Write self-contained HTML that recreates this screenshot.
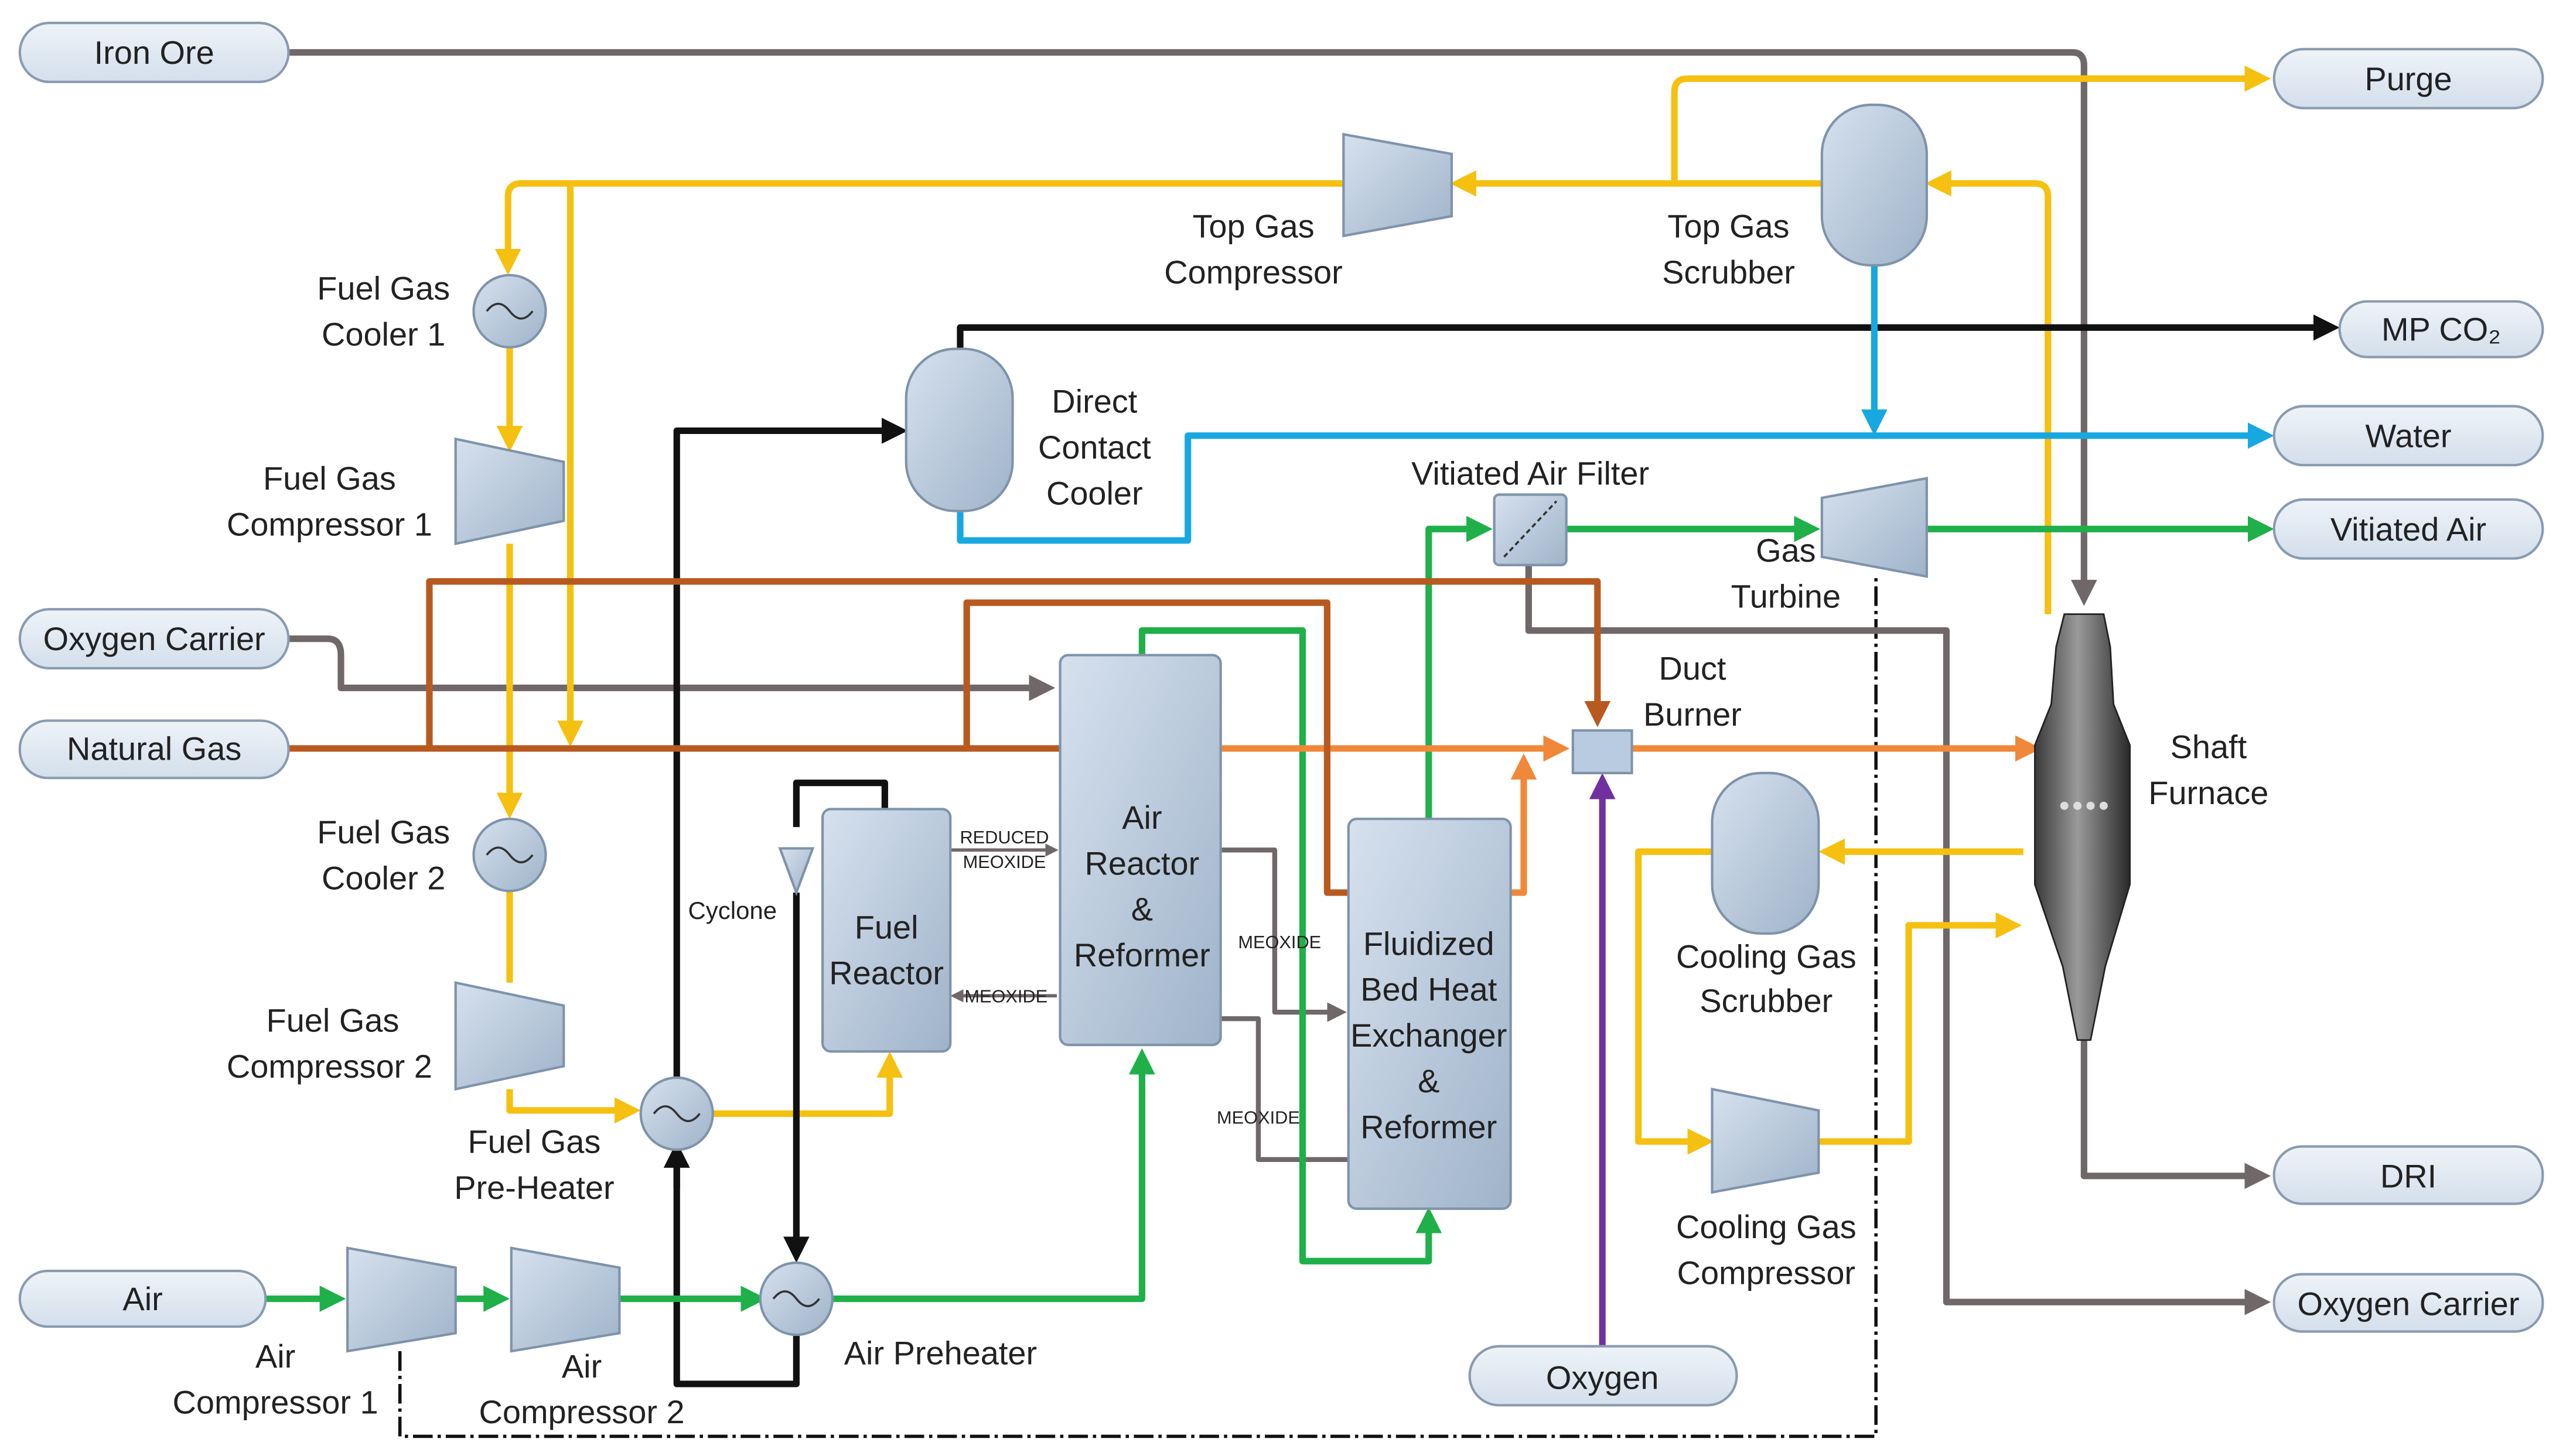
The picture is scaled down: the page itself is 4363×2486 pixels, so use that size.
<!DOCTYPE html>
<html><head><meta charset="utf-8"><style>
html,body{margin:0;padding:0;background:#fff;}
svg{display:block;}
text{font-family:"Liberation Sans",sans-serif;fill:#222;}
</style></head><body>
<svg width="4363" height="2486" viewBox="0 0 1560 889" xmlns="http://www.w3.org/2000/svg">
<defs>
<linearGradient id="eq" x1="0" y1="0" x2="1" y2="1"><stop offset="0" stop-color="#d6e1ee"/><stop offset="1" stop-color="#9fb3c9"/></linearGradient>
<linearGradient id="pill" x1="0" y1="0" x2="0" y2="1"><stop offset="0" stop-color="#eef3f8"/><stop offset="1" stop-color="#d3dfec"/></linearGradient>
<linearGradient id="fur" x1="0" y1="0" x2="1" y2="0"><stop offset="0" stop-color="#3a3a3a"/><stop offset="0.45" stop-color="#9a9a9a"/><stop offset="1" stop-color="#2a2a2a"/></linearGradient>
<marker id="aY" markerWidth="4" markerHeight="4" refX="2" refY="2" orient="auto" markerUnits="strokeWidth"><path d="M0,0 L4,2 L0,4z" fill="#f5c010"/></marker>
<marker id="aG" markerWidth="4" markerHeight="4" refX="2" refY="2" orient="auto" markerUnits="strokeWidth"><path d="M0,0 L4,2 L0,4z" fill="#1fb04a"/></marker>
<marker id="aK" markerWidth="4" markerHeight="4" refX="2" refY="2" orient="auto" markerUnits="strokeWidth"><path d="M0,0 L4,2 L0,4z" fill="#111"/></marker>
<marker id="aB" markerWidth="4" markerHeight="4" refX="2" refY="2" orient="auto" markerUnits="strokeWidth"><path d="M0,0 L4,2 L0,4z" fill="#18a8e0"/></marker>
<marker id="aR" markerWidth="4" markerHeight="4" refX="2" refY="2" orient="auto" markerUnits="strokeWidth"><path d="M0,0 L4,2 L0,4z" fill="#706868"/></marker>
<marker id="aO" markerWidth="4" markerHeight="4" refX="2" refY="2" orient="auto" markerUnits="strokeWidth"><path d="M0,0 L4,2 L0,4z" fill="#f0883a"/></marker>
<marker id="aN" markerWidth="4" markerHeight="4" refX="2" refY="2" orient="auto" markerUnits="strokeWidth"><path d="M0,0 L4,2 L0,4z" fill="#b85a20"/></marker>
<marker id="aP" markerWidth="4" markerHeight="4" refX="2" refY="2" orient="auto" markerUnits="strokeWidth"><path d="M0,0 L4,2 L0,4z" fill="#7030a0"/></marker>
</defs>
<g fill="none" stroke-width="4" stroke-linejoin="round">
<!-- dash-dot shaft -->
<path d="M244,825 V877 H1145 V352" stroke="#111" stroke-width="2" stroke-dasharray="12,3,2,3"/>
<!-- grey -->
<path d="M176,32 H1265 Q1272,32 1272,40 V362" stroke="#706868" marker-end="url(#aR)"/>
<path d="M176,390 H200 Q208,390 208,400 V420 H636" stroke="#706868" marker-end="url(#aR)"/>
<path d="M933,345 V385 H1188 V795 H1378" stroke="#706868" marker-end="url(#aR)"/>
<path d="M1272,635 V718 H1378" stroke="#706868" marker-end="url(#aR)"/>
<path d="M745,519 H778 V618 H816" stroke="#706868" stroke-width="3" marker-end="url(#aR)"/>
<path d="M745,622 H768 V708 H823" stroke="#706868" stroke-width="3"/>
<path d="M580,519 H642" stroke="#706868" stroke-width="2" marker-end="url(#aR)"/>
<path d="M645,608 H584" stroke="#706868" stroke-width="2" marker-end="url(#aR)"/>
<!-- yellow -->
<path d="M1022,110 V56 Q1022,48 1030,48 H1378" stroke="#f5c010" marker-end="url(#aY)"/>
<path d="M1112,112 H893" stroke="#f5c010" marker-end="url(#aY)"/>
<path d="M820,112 H318 Q310,112 310,120 V160" stroke="#f5c010" marker-end="url(#aY)"/>
<path d="M348,112 V448" stroke="#f5c010" marker-end="url(#aY)"/>
<path d="M1250,375 V120 Q1250,112 1242,112 H1183" stroke="#f5c010" marker-end="url(#aY)"/>
<path d="M311,212 V268" stroke="#f5c010" marker-end="url(#aY)"/>
<path d="M311,332 V492" stroke="#f5c010" marker-end="url(#aY)"/>
<path d="M311,544 V600" stroke="#f5c010"/>
<path d="M311,665 V678 H383" stroke="#f5c010" marker-end="url(#aY)"/>
<path d="M435,680 H543 V650" stroke="#f5c010" marker-end="url(#aY)"/>
<path d="M1235,520 H1118" stroke="#f5c010" marker-end="url(#aY)"/>
<path d="M1045,520 H1000 V697 H1038" stroke="#f5c010" marker-end="url(#aY)"/>
<path d="M1110,697 H1165 V565 H1226" stroke="#f5c010" marker-end="url(#aY)"/>
<!-- black -->
<path d="M586,213 V200 H1420" stroke="#111" marker-end="url(#aK)"/>
<path d="M413,703 V845 H486 V815" stroke="#111"/>
<path d="M413,725 V705" stroke="#111" marker-end="url(#aK)"/>
<path d="M413,658 V263 H546" stroke="#111" marker-end="url(#aK)"/>
<path d="M486,545 V763" stroke="#111" marker-end="url(#aK)"/>
<path d="M486,505 V478 H540 V494" stroke="#111"/>
<!-- blue -->
<path d="M1144,162 V258" stroke="#18a8e0" marker-end="url(#aB)"/>
<path d="M586,312 V330 H725 V266 H1380" stroke="#18a8e0" marker-end="url(#aB)"/>
<!-- green -->
<path d="M162,793 H203" stroke="#1fb04a" marker-end="url(#aG)"/>
<path d="M278,793 H303" stroke="#1fb04a" marker-end="url(#aG)"/>
<path d="M378,793 H460" stroke="#1fb04a" marker-end="url(#aG)"/>
<path d="M508,793 H697 V648" stroke="#1fb04a" marker-end="url(#aG)"/>
<path d="M697,400 V385 H795 V770 H872 V745" stroke="#1fb04a" marker-end="url(#aG)"/>
<path d="M872,500 V323 H903" stroke="#1fb04a" marker-end="url(#aG)"/>
<path d="M956,323 H1103" stroke="#1fb04a" marker-end="url(#aG)"/>
<path d="M1176,323 H1380" stroke="#1fb04a" marker-end="url(#aG)"/>
<!-- brown / orange -->
<path d="M176,457 H675 L688,447 L700,467 L712,447 L725,457" stroke="#b85a20"/>
<path d="M725,457 H950" stroke="#f0883a" marker-end="url(#aO)"/>
<path d="M262,457 V355 H975 V436" stroke="#b85a20" marker-end="url(#aN)"/>
<path d="M590,457 V368 H810 V545 L830,545 L843,535 L856,555 L869,535 L882,545 H890" stroke="#b85a20"/>
<path d="M890,545 H930 V468" stroke="#f0883a" marker-end="url(#aO)"/>
<path d="M996,457 H1238" stroke="#f0883a" marker-end="url(#aO)"/>
<!-- purple -->
<path d="M978,822 V480" stroke="#7030a0" marker-end="url(#aP)"/>
</g>
<!-- equipment -->
<g stroke="#7f93aa" stroke-width="1.5" fill="url(#eq)">
<rect x="1112" y="64" width="64" height="98" rx="30"/>
<rect x="553" y="213" width="65" height="99" rx="30"/>
<rect x="1045" y="472" width="65" height="98" rx="30"/>
<path d="M820,82 L886,94 L886,132 L820,144Z"/>
<path d="M278,268 L344,282 L344,318 L278,332Z"/>
<path d="M278,600 L344,614 L344,651 L278,665Z"/>
<path d="M212,762 L278,774 L278,814 L212,825Z"/>
<path d="M312,762 L378,774 L378,814 L312,825Z"/>
<path d="M1112,304 L1176,292 L1176,352 L1112,340Z"/>
<path d="M1045,665 L1110,678 L1110,716 L1045,728Z"/>
<rect x="502" y="494" width="78" height="148" rx="5"/>
<rect x="647" y="400" width="98" height="238" rx="5"/>
<rect x="823" y="500" width="99" height="238" rx="5"/>
<rect x="912" y="302" width="44" height="43" rx="3"/>
<rect x="960" y="446" width="36" height="26" fill="#b8cbe0"/>
<circle cx="311" cy="190" r="22"/><circle cx="311" cy="522" r="22"/>
<circle cx="413" cy="680" r="22"/><circle cx="486" cy="793" r="22"/>
<path d="M476,518 L496,518 L486,545Z"/>
</g>
<g fill="none" stroke="#333" stroke-width="1.3">
<path d="M297,190 q7,-9 14,0 t14,0"/><path d="M297,522 q7,-9 14,0 t14,0"/>
<path d="M399,680 q7,-9 14,0 t14,0"/><path d="M472,793 q7,-9 14,0 t14,0"/>
<path d="M918,340 L950,306" stroke-dasharray="3,2"/>
</g>
<!-- shaft furnace -->
<path d="M1260,375 H1284 L1288,395 L1290,430 L1300,455 L1300,540 L1285,590 L1276,635 H1268 L1259,590 L1242,540 L1242,455 L1252,430 L1255,395Z" fill="url(#fur)" stroke="#222"/>
<g fill="#ddd"><circle cx="1260" cy="492" r="2.5"/><circle cx="1268" cy="492" r="2.5"/><circle cx="1276" cy="492" r="2.5"/><circle cx="1284" cy="492" r="2.5"/></g>
<!-- pills -->
<g stroke="#8a9bb0" stroke-width="1.5" fill="url(#pill)">
<rect x="12" y="14" width="164" height="36" rx="18"/>
<rect x="12" y="372" width="164" height="36" rx="18"/>
<rect x="12" y="440" width="164" height="35" rx="17"/>
<rect x="12" y="776" width="150" height="34" rx="17"/>
<rect x="1388" y="30" width="164" height="36" rx="18"/>
<rect x="1428" y="184" width="124" height="34" rx="17"/>
<rect x="1388" y="248" width="164" height="36" rx="18"/>
<rect x="1388" y="305" width="164" height="36" rx="18"/>
<rect x="1388" y="700" width="164" height="35" rx="17"/>
<rect x="1388" y="778" width="164" height="35" rx="17"/>
<rect x="897" y="822" width="163" height="36" rx="18"/>
</g>
<g font-size="20" text-anchor="middle">
<text x="94" y="39">Iron Ore</text>
<text x="94" y="397">Oxygen Carrier</text>
<text x="94" y="464">Natural Gas</text>
<text x="87" y="800">Air</text>
<text x="1470" y="55">Purge</text>
<text x="1490" y="208">MP CO₂</text>
<text x="1470" y="273">Water</text>
<text x="1470" y="330">Vitiated Air</text>
<text x="1470" y="725">DRI</text>
<text x="1470" y="803">Oxygen Carrier</text>
<text x="978" y="848">Oxygen</text>
<text x="765" y="145">Top Gas</text><text x="765" y="173">Compressor</text>
<text x="1055" y="145">Top Gas</text><text x="1055" y="173">Scrubber</text>
<text x="234" y="183">Fuel Gas</text><text x="234" y="211">Cooler 1</text>
<text x="201" y="299">Fuel Gas</text><text x="201" y="327">Compressor 1</text>
<text x="234" y="515">Fuel Gas</text><text x="234" y="543">Cooler 2</text>
<text x="203" y="630">Fuel Gas</text><text x="201" y="658">Compressor 2</text>
<text x="326" y="704">Fuel Gas</text><text x="326" y="732">Pre-Heater</text>
<text x="668" y="252">Direct</text><text x="668" y="280">Contact</text><text x="668" y="308">Cooler</text>
<text x="934" y="296">Vitiated Air Filter</text>
<text x="1090" y="343">Gas</text><text x="1090" y="371">Turbine</text>
<text x="1033" y="415">Duct</text><text x="1033" y="443">Burner</text>
<text x="1348" y="463">Shaft</text><text x="1348" y="491">Furnace</text>
<text x="541" y="573">Fuel</text><text x="541" y="601">Reactor</text>
<text x="697" y="506">Air</text><text x="697" y="534">Reactor</text><text x="697" y="562">&amp;</text><text x="697" y="590">Reformer</text>
<text x="872" y="583">Fluidized</text><text x="872" y="611">Bed Heat</text><text x="872" y="639">Exchanger</text><text x="872" y="667">&amp;</text><text x="872" y="695">Reformer</text>
<text x="1078" y="591">Cooling Gas</text><text x="1078" y="618">Scrubber</text>
<text x="1078" y="756">Cooling Gas</text><text x="1078" y="784">Compressor</text>
<text x="168" y="835">Air</text><text x="168" y="863">Compressor 1</text>
<text x="355" y="841">Air</text><text x="355" y="869">Compressor 2</text>
<text x="574" y="833">Air Preheater</text>
</g>
<g font-size="15" text-anchor="middle"><text x="447" y="561">Cyclone</text></g>
<g font-size="11" text-anchor="middle">
<text x="613" y="515">REDUCED</text><text x="613" y="530">MEOXIDE</text>
<text x="614" y="612">MEOXIDE</text>
<text x="781" y="579">MEOXIDE</text>
<text x="768" y="686">MEOXIDE</text>
</g>
</svg>
</body></html>
